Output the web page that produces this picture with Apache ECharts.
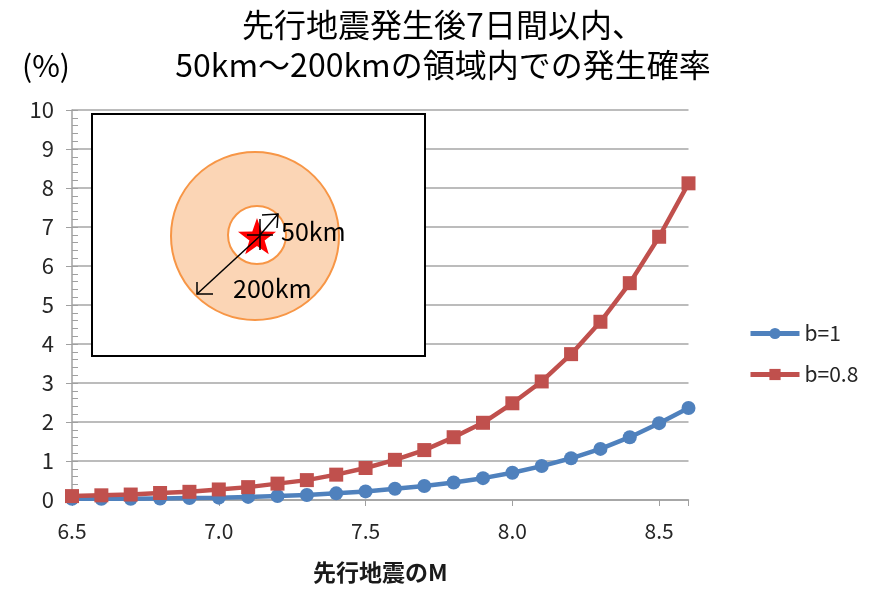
<!DOCTYPE html>
<html>
<head>
<meta charset="utf-8">
<script src="https://cdn.jsdelivr.net/npm/echarts@6/dist/echarts.min.js"></script>
<style>
  html, body { margin: 0; padding: 0; background: #fff; }
  #chart { width: 870px; height: 591px; }
</style>
</head>
<body>
<div id="chart"></div>
<script>
// Magnitude of the foreshock (x) and probability in percent (y)
const magnitudes = [6.5, 6.6, 6.7, 6.8, 6.9, 7.0, 7.1, 7.2, 7.3, 7.4, 7.5,
                    7.6, 7.7, 7.8, 7.9, 8.0, 8.1, 8.2, 8.3, 8.4, 8.5, 8.6];
const probB10 = [0.03, 0.03, 0.03, 0.04, 0.05, 0.06, 0.08, 0.10, 0.13, 0.17, 0.22,
                 0.29, 0.36, 0.45, 0.56, 0.70, 0.87, 1.07, 1.31, 1.61, 1.97, 2.36];
const probB08 = [0.10, 0.12, 0.14, 0.18, 0.21, 0.27, 0.33, 0.42, 0.51, 0.65, 0.82,
                 1.03, 1.28, 1.61, 1.98, 2.48, 3.04, 3.74, 4.57, 5.56, 6.75, 8.12];
const seriesNames = ['b=1', 'b=0.8'];
const titleText = '先行地震発生後7日間以内、\n50km～200kmの領域内での発生確率';
const xAxisTitle = '先行地震のM';
const yUnit = '(%)';

const FONT = '"Noto Sans CJK JP", "Noto Sans", sans-serif';
const BLUE = '#4f81bd';
const RED = '#c0504d';
const AXIS_GREY = '#a0a0a0';
const LABEL = '#262626';

const chart = echarts.init(document.getElementById('chart'), null, { renderer: 'canvas' });

const pairs = (ys) => magnitudes.map((m, i) => [m, ys[i]]);

// five-pointed star outline for the epicentre symbol
function starPoints(cx, cy, r, r0) {
  const pts = [];
  for (let i = 0; i < 10; i++) {
    const rad = i % 2 === 0 ? r : r0;
    const a = -Math.PI / 2 + i * Math.PI / 5;
    pts.push([cx + rad * Math.cos(a), cy + rad * Math.sin(a)]);
  }
  return pts;
}

// Inset sketch: foreshock epicentre with the 50 km and 200 km rings
const inset = [
  { type: 'rect', shape: { x: 92, y: 114, width: 333, height: 242 },
    style: { fill: '#fff', stroke: '#000', lineWidth: 2 }, z: 10 },
  { type: 'circle', shape: { cx: 255, cy: 236, r: 84 },
    style: { fill: '#fbd5b5', stroke: '#f79646', lineWidth: 2 }, z: 11 },
  { type: 'circle', shape: { cx: 257, cy: 235, r: 29 },
    style: { fill: '#fff', stroke: '#f79646', lineWidth: 2 }, z: 12 },
  { type: 'polygon', shape: { points: starPoints(257, 238, 20, 8) },
    style: { fill: '#ff0000' }, z: 13 },
  // cross mark at the epicentre
  { type: 'line', shape: { x1: 247, y1: 235, x2: 273, y2: 235 },
    style: { stroke: '#000', lineWidth: 1.5 }, z: 14 },
  { type: 'line', shape: { x1: 260, y1: 219, x2: 260, y2: 250 },
    style: { stroke: '#000', lineWidth: 1.5 }, z: 14 },
  // 50 km arrow
  { type: 'line', shape: { x1: 260, y1: 235, x2: 278, y2: 214 },
    style: { stroke: '#000', lineWidth: 1.5 }, z: 14 },
  { type: 'polyline', shape: { points: [[262, 215], [278, 214], [277, 228]] },
    style: { stroke: '#000', lineWidth: 1.5, fill: null }, z: 14 },
  // 200 km arrow
  { type: 'line', shape: { x1: 260, y1: 236, x2: 197, y2: 294 },
    style: { stroke: '#000', lineWidth: 1.5 }, z: 14 },
  { type: 'polyline', shape: { points: [[197, 282], [197, 294], [213, 294]] },
    style: { stroke: '#000', lineWidth: 1.5, fill: null }, z: 14 },
  { type: 'text', left: 281, top: 219,
    style: { text: '50km', fill: '#000', font: '25px ' + FONT }, z: 15 },
  { type: 'text', left: 233, top: 276,
    style: { text: '200km', fill: '#000', font: '25px ' + FONT }, z: 15 },
  // unit label for the value axis
  { type: 'text', left: 22, top: 51,
    style: { text: yUnit, fill: '#000', font: '30px ' + FONT }, z: 15 }
];

chart.setOption({
  animation: false,
  backgroundColor: '#fff',
  title: {
    text: titleText,
    left: 438, top: 0,
    textAlign: 'center',
    textStyle: { fontFamily: FONT, fontSize: 32, fontWeight: 'normal', color: '#000', lineHeight: 40 }
  },
  legend: {
    orient: 'vertical',
    left: 743, top: 318,
    itemWidth: 49, itemHeight: 14,
    itemGap: 20,
    lineStyle: { width: 5 },
    textStyle: { fontFamily: FONT, fontSize: 21, color: LABEL },
    data: seriesNames
  },
  grid: { left: 72, right: 181.5, top: 110, bottom: 91, outerBoundsMode: 'none', containLabel: false },
  xAxis: {
    type: 'value',
    min: 6.5, max: 8.6, interval: 0.5,
    name: xAxisTitle,
    nameLocation: 'middle',
    nameGap: 61,
    nameTextStyle: { fontFamily: FONT, fontSize: 23, fontWeight: 'bold', color: '#1a1a1a' },
    axisLine: { lineStyle: { color: AXIS_GREY, width: 1.5 } },
    axisTick: { show: true, inside: false, length: 6, lineStyle: { color: AXIS_GREY } },
    axisLabel: {
      fontFamily: FONT, fontSize: 21, color: LABEL, margin: 21,
      formatter: (v) => (Math.abs(v * 2 - Math.round(v * 2)) < 1e-6 ? v.toFixed(1) : '')
    },
    splitLine: { show: false }
  },
  yAxis: [
    {
      type: 'value',
      min: 0, max: 10, interval: 1,
      axisLine: { show: true, lineStyle: { color: AXIS_GREY, width: 1.5 } },
      axisTick: { show: true, inside: true, length: 6, lineStyle: { color: AXIS_GREY } },
      minorTick: { show: true, splitNumber: 5, length: 6, lineStyle: { color: AXIS_GREY } },
      axisLabel: { fontFamily: FONT, fontSize: 22, color: LABEL, margin: 18 },
      splitLine: { lineStyle: { color: '#a6a6a6', width: 1.5 } }
    },
    {
      // outward major ticks on the same scale
      type: 'value', position: 'left',
      min: 0, max: 10, interval: 1,
      axisLine: { show: false },
      axisTick: { show: true, inside: false, length: 6, lineStyle: { color: AXIS_GREY } },
      axisLabel: { show: false },
      splitLine: { show: false }
    }
  ],
  series: [
    {
      name: seriesNames[0], type: 'line', data: pairs(probB10),
      symbol: 'circle', symbolSize: 14,
      lineStyle: { color: BLUE, width: 4.5 },
      itemStyle: { color: BLUE },
      z: 3
    },
    {
      name: seriesNames[1], type: 'line', data: pairs(probB08),
      symbol: 'rect', symbolSize: 14,
      lineStyle: { color: RED, width: 4.5 },
      itemStyle: { color: RED },
      z: 4
    }
  ],
  graphic: inset
});
</script>
</body>
</html>
